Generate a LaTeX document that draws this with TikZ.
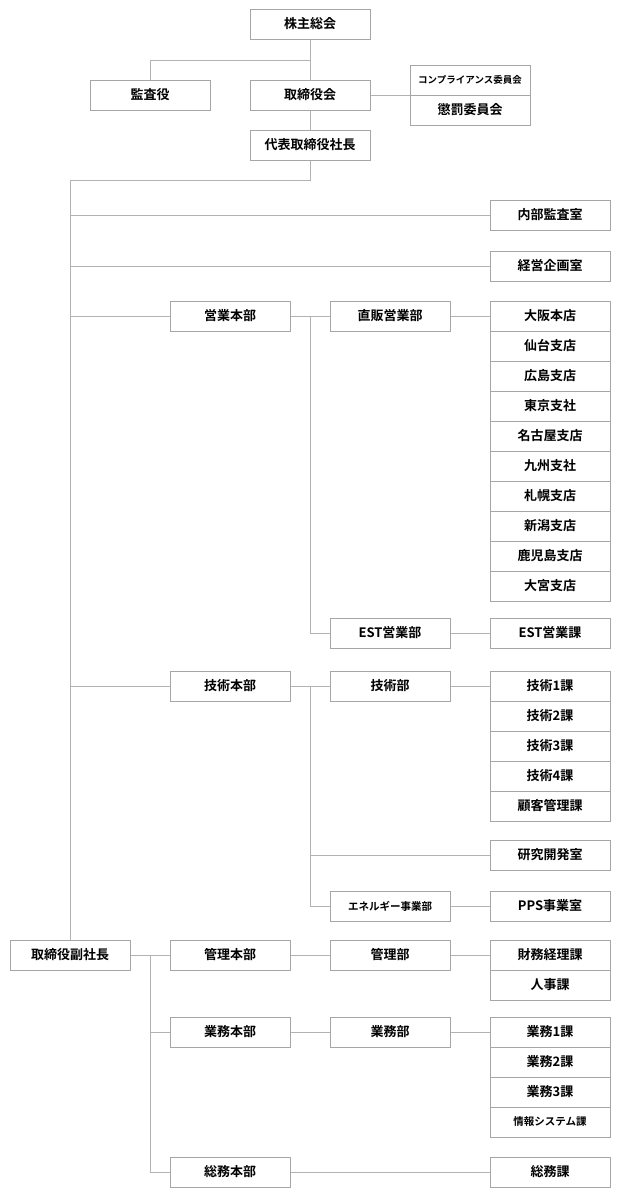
\documentclass[tikz,border=0pt]{standalone}
\usepackage{fontspec}
\setmainfont{Noto Sans CJK JP}[BoldFont={* Bold}]
\begin{document}
\begin{tikzpicture}[x=1pt,y=-1pt,
  bx/.style={draw=black!35,line width=1pt,fill=white,minimum width=120pt,minimum height=30pt,inner sep=0pt,font=\fontsize{13}{15}\selectfont\bfseries},
  ln/.style={draw=black!30,line width=1pt}]
\useasboundingbox (0,0) rectangle (620,1200);
% top
\node[bx] (sh) at (310,24) {株主総会};
\node[bx] (ka) at (150,95) {監査役};
\node[bx] (tr) at (310,95) {取締役会};
\node[bx,font=\fontsize{9.5}{11}\selectfont\bfseries] (co) at (470,80) {コンプライアンス委員会};
\node[bx] (ch) at (470,110) {懲罰委員会};
\node[bx] (pr) at (310,145) {代表取締役社長};
\coordinate (j1) at (310,60);
\draw[ln] (sh) -- (tr) (j1) -| (ka);
\draw[ln] (tr) -- (tr-|co.west);
\draw[ln] (tr) -- (pr);
\coordinate (L) at (70,180);
\draw[ln] (pr.south) |- (L);
% left spine
\node[bx] (vp) at (70,955) {取締役副社長};
\draw[ln] (L) -- (vp);
\node[bx] (na) at (550,215) {内部監査室};
\node[bx] (ke) at (550,266) {経営企画室};
\draw[ln] (na) -- (na-|L) (ke) -- (ke-|L);
% sales
\node[bx] (eh) at (230,316) {営業本部};
\node[bx] (cb) at (390,316) {直販営業部};
\draw[ln] (eh) -- (eh-|L) (eh) -- (cb);
\foreach \t [count=\i from 0] in {大阪本店,仙台支店,広島支店,東京支社,名古屋支店,九州支社,札幌支店,新潟支店,鹿児島支店,大宮支店}
  \node[bx] (s\i) at (550,316+30*\i) {\t};
\draw[ln] (cb) -- (s0);
\node[bx] (eb) at (390,633) {EST営業部};
\node[bx] (ek) at (550,633) {EST営業課};
\draw[ln] (eb) -- (ek);
\coordinate (m1) at (310,316);
\draw[ln] (m1) |- (eb);
% tech
\node[bx] (gh) at (230,686) {技術本部};
\node[bx] (gb) at (390,686) {技術部};
\draw[ln] (gh) -- (gh-|L) (gh) -- (gb);
\foreach \t [count=\i from 0] in {技術1課,技術2課,技術3課,技術4課,顧客管理課}
  \node[bx] (g\i) at (550,686+30*\i) {\t};
\draw[ln] (gb) -- (g0);
\node[bx] (kk) at (550,855) {研究開発室};
\node[bx,font=\fontsize{10.5}{12}\selectfont\bfseries] (en) at (390,906) {エネルギー事業部};
\node[bx] (pp) at (550,906) {PPS事業室};
\coordinate (m2) at (310,686);
\draw[ln] (m2) |- (en) (en) -- (pp);
\draw[ln] (kk) -- (kk-|m2);
% admin
\coordinate (M) at (150,955);
\node[bx] (kh) at (230,955) {管理本部};
\node[bx] (kb) at (390,955) {管理部};
\node[bx] (z1) at (550,955) {財務経理課};
\node[bx] (z2) at (550,985) {人事課};
\draw[ln] (vp) -- (kh) (kh) -- (kb) (kb) -- (z1);
\node[bx] (jh) at (230,1032) {業務本部};
\node[bx] (jb) at (390,1032) {業務部};
\foreach \t [count=\i from 0] in {業務1課,業務2課,業務3課}
  \node[bx] (j\i) at (550,1032+30*\i) {\t};
\node[bx,font=\fontsize{10.5}{12}\selectfont\bfseries] (j3) at (550,1122) {情報システム課};
\draw[ln] (jh) -- (jb) (jb) -- (j0);
\node[bx] (sm) at (230,1172) {総務本部};
\node[bx] (sk) at (550,1172) {総務課};
\draw[ln] (sm) -- (sk);
\draw[ln] (M) |- (sm) (jh) -- (jh-|M);
% redraw boxes over lines
\end{tikzpicture}
\end{document}
